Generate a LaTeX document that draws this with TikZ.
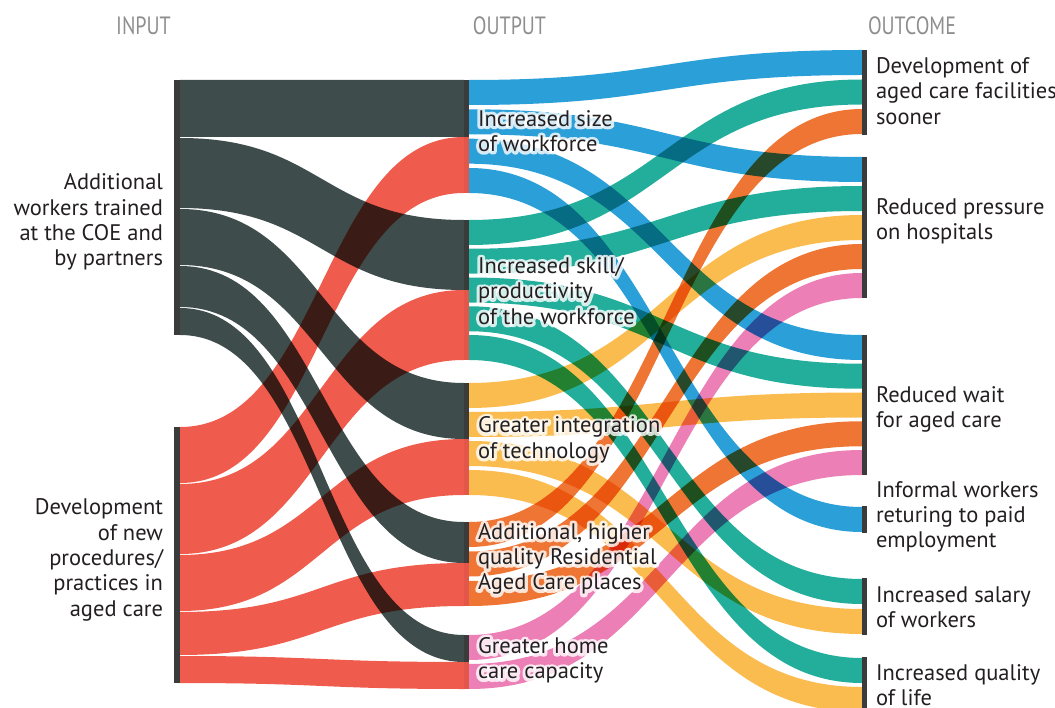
\documentclass[tikz,border=0pt]{standalone}
\usepackage{fontspec}
\setmainfont{PT Sans}
\usetikzlibrary{calc,backgrounds}

\definecolor{slate}{HTML}{3E4C4B}
\definecolor{coral}{HTML}{EF5B4C}
\definecolor{skyblue}{HTML}{2B9FD8}
\definecolor{seagreen}{HTML}{23AE9B}
\definecolor{amber}{HTML}{FBBC4F}
\definecolor{tangerine}{HTML}{EE7533}
\definecolor{rose}{HTML}{EC7FB5}
\definecolor{barcol}{HTML}{3A3C3C}
\definecolor{midred}{HTML}{E4564A}
\definecolor{ink}{HTML}{231F20}
\definecolor{headgray}{HTML}{8E8E8E}

\tikzset{
  flowfill/.style={fill=#1, blend mode=multiply},
  barnode/.style={rectangle, inner sep=0pt, outer sep=0pt, draw=none,
    minimum width=5pt, anchor=north west, fill=barcol},
  lbl/.style={inner sep=0pt, outer sep=0pt, text=ink,
    font=\fontsize{22.5}{25.3}\selectfont},
  midlbl/.style={lbl, anchor=west, align=left},
  rightlbl/.style={lbl, anchor=west, align=left},
  leftlbl/.style={lbl, anchor=east, align=right},
  headlbl/.style={inner sep=0pt, text=headgray, font=\fontsize{25}{28}\selectfont}
}

% a Sankey band: colour, source bar, offset below its top, target bar,
% offset below its top, thickness
\newcommand\band[6]{%
  \path[flowfill=#1] let \p1=([yshift=-#3pt]#2.north east),
      \p2=([yshift=-#5pt]#4.north west), \n1={0.5*(\x1+\x2)} in
    (\p1) .. controls ({\n1},\y1) and ({\n1},\y2) .. (\p2)
    -- ({\x2},{\y2-#6pt})
    .. controls ({\n1},{\y2-#6pt}) and ({\n1},{\y1-#6pt}) .. ({\x1},{\y1-#6pt})
    -- cycle;
}

% glyphs drawn as fill plus a thick white stroke (PDF text render mode 2)
\newcommand\strokedtext[1]{%
  \special{pdf:literal 2 Tr 6 w 1 j 1 J 1 1 1 RG 1 1 1 rg}#1\special{pdf:literal 0 Tr}}

% label with a soft white outline
\newcommand\halolabel[3]{%
  \node[midlbl, text=white, opacity=0.8] (#1-halo) at (#2) {\strokedtext{#3}};
  \node[midlbl] (#1) at (#2) {#3};
}

\begin{document}
\begin{tikzpicture}[x=1pt,y=-1pt]
\useasboundingbox (0,0) rectangle (1055,708);

% input bars
\node[barnode, minimum width=6pt, minimum height=255pt] (in1) at (174,80) {};
\node[barnode, minimum width=6pt, minimum height=256pt] (in2) at (174,427) {};

% output bars (upper part fed by the first input, lower part by the second)
\node[barnode, minimum height=113pt] (o1) at (464,80) {};
\node[barnode, minimum height=140pt] (o2) at (464,220) {};
\node[barnode, minimum height=112pt] (o3) at (464,383) {};
\node[barnode, minimum height=84pt]  (o4) at (464,522) {};
\node[barnode, minimum height=54pt]  (o5) at (464,635) {};
\fill[midred] ([yshift=-57pt]o1.north west) rectangle (o1.south east);
\fill[midred] ([yshift=-70pt]o2.north west) rectangle (o2.south east);
\fill[midred] ([yshift=-56pt]o3.north west) rectangle (o3.south east);
\fill[midred] ([yshift=-41pt]o4.north west) rectangle (o4.south east);
\fill[midred] ([yshift=-27pt]o5.north west) rectangle (o5.south east);

% outcome bars
\node[barnode, minimum height=85pt]  (r1) at (862,50) {};
\node[barnode, minimum height=141pt] (r2) at (862,157) {};
\node[barnode, minimum height=140pt] (r3) at (862,335) {};
\node[barnode, minimum height=27pt]  (r4) at (862,506) {};
\node[barnode, minimum height=57pt]  (r5) at (862,578) {};
\node[barnode, minimum height=60pt]  (r6) at (862,657) {};

\begin{pgfonlayer}{background}
  % input -> output
  \band{slate}{in1}{0}{o1}{0}{57}
  \band{slate}{in1}{58}{o2}{0}{70}
  \band{slate}{in1}{129}{o3}{0}{56}
  \band{slate}{in1}{186}{o4}{0}{41}
  \band{slate}{in1}{228}{o5}{0}{27}
  \band{coral}{in2}{0}{o1}{57}{56}
  \band{coral}{in2}{57}{o2}{70}{70}
  \band{coral}{in2}{128}{o3}{56}{56}
  \band{coral}{in2}{185}{o4}{41}{43}
  \band{coral}{in2}{229}{o5}{27}{27}
  % output -> outcome
  \band{skyblue}{o1}{0}{r1}{0}{25}
  \band{skyblue}{o1}{29.3}{r2}{0}{25}
  \band{skyblue}{o1}{58.7}{r3}{0}{25}
  \band{skyblue}{o1}{88}{r4}{1}{25}
  \band{seagreen}{o2}{0}{r1}{29.5}{25}
  \band{seagreen}{o2}{28.75}{r2}{29}{25}
  \band{seagreen}{o2}{57.5}{r3}{28.75}{25}
  \band{seagreen}{o2}{86.25}{r5}{1}{25}
  \band{seagreen}{o2}{115}{r6}{1}{25}
  \band{amber}{o3}{0}{r2}{58}{25}
  \band{amber}{o3}{29}{r3}{57.5}{25}
  \band{amber}{o3}{58}{r5}{31}{25}
  \band{amber}{o3}{87}{r6}{30}{25}
  \band{tangerine}{o4}{0}{r1}{59}{25}
  \band{tangerine}{o4}{29.5}{r2}{87}{25}
  \band{tangerine}{o4}{59}{r3}{86.25}{25}
  \band{rose}{o5}{0}{r2}{116}{25}
  \band{rose}{o5}{29}{r3}{115}{25}
\end{pgfonlayer}

% column headings
\node[headlbl] (hin)  at (143.5,26) {\scalebox{0.8}[1]{INPUT}};
\node[headlbl] (hout) at (509.5,26) {\scalebox{0.8}[1]{OUTPUT}};
\node[headlbl] (hoc)  at (912,26)   {\scalebox{0.8}[1]{OUTCOME}};

% input labels
\node[leftlbl] (tin1) at (163,222) {Additional\\workers trained\\at the COE and\\by partners};
\node[leftlbl] (tin2) at (163,560) {Development\\of new\\procedures/\\practices in\\aged care};

% output labels
\coordinate (po1) at (478,131);
\coordinate (po2) at (478,291);
\coordinate (po3) at (478,440);
\coordinate (po4) at (478,559);
\coordinate (po5) at (478,660.5);
\halolabel{to1}{po1}{Increased size\\of workforce}
\halolabel{to2}{po2}{Increased skill/\\productivity\\of the workforce}
\halolabel{to3}{po3}{Greater integration\\of technology}
\halolabel{to4}{po4}{Additional, higher\\quality Residential\\Aged Care places}
\halolabel{to5}{po5}{Greater home\\care capacity}

% outcome labels
\node[rightlbl] (tr1) at (876,91)    {Development of\\aged care facilities\\sooner};
\node[rightlbl] (tr2) at (876,221.5) {Reduced pressure\\on hospitals};
\node[rightlbl] (tr3) at (876,409.5) {Reduced wait\\for aged care};
\node[rightlbl] (tr4) at (876,517)   {Informal workers\\returing to paid\\employment};
\node[rightlbl] (tr5) at (876,607.5) {Increased salary\\of workers};
\node[rightlbl] (tr6) at (876,685.5) {Increased quality\\of life};
\end{tikzpicture}
\end{document}
